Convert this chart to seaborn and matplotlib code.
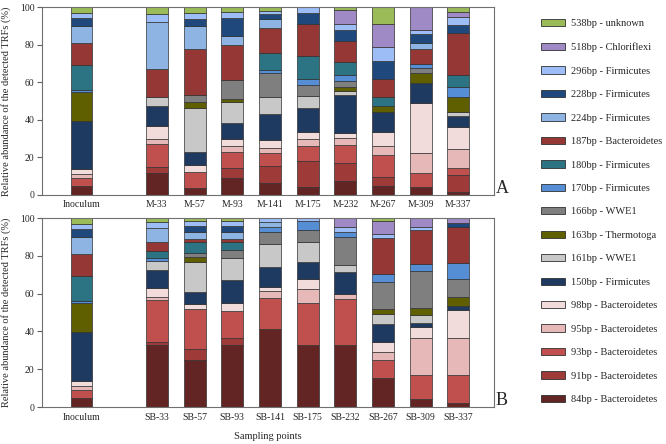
import matplotlib.pyplot as plt
import pandas as pd
import seaborn as sns
from matplotlib.patches import Patch

sns.set_style("white")
plt.rcParams['font.family'] = ['Liberation Serif', 'DejaVu Serif']

# TRF legend, bottom of the stack first
trfs = ["84bp - Bacteroidetes", "91bp - Bacteroidetes", "93bp - Bacteroidetes",
        "95bp - Bacteroidetes", "98bp - Bacteroidetes", "150bp - Firmicutes",
        "161bp - WWE1", "163bp - Thermotoga", "166bp - WWE1", "170bp - Firmicutes",
        "180bp - Firmicutes", "187bp - Bacteroidetes", "224bp - Firmicutes",
        "228bp - Firmicutes", "296bp - Firmicutes", "518bp - Chloriflexi",
        "538bp - unknown"]
colors = ["#632523", "#9E3A38", "#C0504D", "#E6B9B8", "#F2DCDB", "#1F3A60",
          "#C8C8C8", "#5F5F00", "#7F7F7F", "#558ED5", "#2C7383", "#953735",
          "#8DB4E2", "#1F497D", "#9DBDF7", "#9F8AC6", "#9BBB59"]

samples_a = ["Inoculum", "M-33", "M-57", "M-93", "M-141", "M-175", "M-232",
             "M-267", "M-309", "M-337"]
samples_b = ["Inoculum", "SB-33", "SB-57", "SB-93", "SB-141", "SB-175", "SB-232",
             "SB-267", "SB-309", "SB-337"]
positions = [0, 2, 3, 4, 5, 6, 7, 8, 9, 10]

# relative abundance (%) per sample, in trfs order
inoculum = [4.8, 0, 4.4, 1.8, 2.7, 25.9, 0, 15.4, 0, 1.0, 13.3, 11.5, 9.2, 4.0, 2.8, 0, 3.2]

m33 = [11.5, 3.1, 12.4, 2.7, 7.1, 10.3, 4.8, 0, 0, 0, 0, 15.2, 24.9, 0, 4.3, 0, 3.7]
m57 = [3.9, 0, 8.2, 0, 3.9, 6.7, 23.5, 3.5, 3.6, 0, 0, 24.3, 12.1, 4.1, 3.0, 0, 3.2]
m93 = [9.2, 5.0, 8.5, 3.1, 3.9, 8.5, 11.5, 1.5, 10.1, 0, 0, 18.3, 4.8, 9.7, 3.1, 0, 2.8]
m141 = [6.2, 9.4, 6.6, 2.7, 4.1, 14.2, 9.2, 0, 12.4, 1.5, 9.2, 13.3, 4.8, 2.8, 1.6, 0, 2.0]
m175 = [4.4, 13.7, 7.7, 3.9, 3.7, 13.1, 6.3, 0, 5.5, 3.5, 11.9, 17.2, 0, 5.9, 3.2, 0, 0]
m232 = [7.5, 9.4, 9.7, 3.6, 2.7, 20.4, 2.1, 2.0, 3.5, 3.0, 7.1, 11.2, 0, 5.7, 3.0, 7.7, 1.4]
m267 = [4.8, 5.0, 11.5, 5.0, 7.4, 10.7, 0, 2.7, 0, 0, 5.3, 9.2, 0, 9.8, 7.1, 12.5, 9.0]
m309 = [4.1, 0, 7.4, 10.7, 26.6, 10.7, 0, 5.3, 2.7, 2.1, 0, 8.0, 3.2, 4.8, 2.0, 12.4, 0]
m337 = [1.8, 8.9, 3.5, 10.1, 11.8, 6.0, 1.8, 8.1, 0, 5.4, 6.6, 22.1, 0, 4.5, 3.9, 2.8, 2.7]

sb33 = [32.7, 1.5, 22.4, 1.4, 4.8, 9.8, 4.9, 0, 0, 1.3, 4.0, 4.5, 7.4, 0, 3.2, 0, 2.1]
sb57 = [24.8, 6.2, 20.9, 0, 2.6, 6.2, 16.3, 2.3, 2.1, 0, 5.9, 1.7, 3.4, 3.5, 2.3, 0, 1.8]
sb93 = [33.1, 3.7, 14.0, 0, 4.1, 12.4, 11.8, 0, 4.1, 0, 4.1, 1.5, 3.6, 3.5, 2.3, 0, 1.8]
sb141 = [41.2, 0, 16.3, 3.9, 2.3, 10.6, 11.9, 0, 6.2, 2.8, 0, 0, 2.5, 0, 2.3, 0, 0]
sb175 = [32.7, 0, 22.2, 7.6, 5.3, 8.7, 10.8, 0, 6.2, 4.7, 0, 0, 0, 0, 1.8, 0, 0]
sb232 = [32.7, 0, 24.3, 2.6, 0, 12.1, 3.2, 0, 15.0, 2.5, 0, 0, 0, 0, 2.6, 5.0, 0]
sb267 = [15.6, 0, 9.5, 4.1, 5.3, 9.7, 5.0, 2.7, 14.5, 3.9, 0, 19.1, 0, 0, 2.1, 6.7, 1.8]
sb309 = [4.1, 0, 12.7, 19.5, 6.2, 1.9, 4.3, 3.9, 19.4, 3.6, 0, 17.9, 0, 0, 1.7, 4.8, 0]
sb337 = [2.1, 0, 14.7, 19.5, 15.0, 2.2, 0, 4.5, 9.6, 8.5, 0, 18.9, 0, 2.3, 0, 2.7, 0]

rows_a = [inoculum, m33, m57, m93, m141, m175, m232, m267, m309, m337]
rows_b = [inoculum, sb33, sb57, sb93, sb141, sb175, sb232, sb267, sb309, sb337]

ylab = "Relative abundance of the detected TRFs (%)"


def to_long(rows):
    recs = []
    for pos, row in zip(positions, rows):
        for trf, v in zip(trfs, row):
            if v > 0:
                recs.append({"pos": pos, "trf": trf, "value": v})
    return pd.DataFrame(recs)


def draw(ax, rows, names, tag):
    df = to_long(rows)
    sns.histplot(data=df, x="pos", hue="trf", weights="value", multiple="stack",
                 discrete=True, shrink=0.58, hue_order=trfs[::-1],
                 palette=dict(zip(trfs, colors)), alpha=1, edgecolor="#303030",
                 linewidth=0.5, legend=False, ax=ax)
    # hide the empty (zero height) segments
    for p in ax.patches:
        if p.get_height() <= 0:
            p.set_visible(False)
    ax.set_xlim(-1.05, 10.95)
    ax.set_ylim(0, 100)
    ax.set_yticks(range(0, 101, 20))
    ax.set_xticks(positions)
    ax.set_xticklabels(names, fontsize=7)
    ax.tick_params(axis="y", labelsize=7, length=3.5, direction="out", left=True,
                   color="#606060", pad=2)
    ax.tick_params(axis="x", length=0, pad=4)
    ax.set_xlabel("")
    ax.set_ylabel(ylab, fontsize=7.5, labelpad=4)
    for s in ax.spines.values():
        s.set_color("#707070")
        s.set_linewidth(0.8)
    ax.text(1.004, -0.01, tag, transform=ax.transAxes, ha="left", va="bottom",
            fontsize=13)


fig = plt.figure(figsize=(6.66, 4.44), dpi=100)
ax_a = fig.add_axes([0.063, 0.561, 0.679, 0.423])
ax_b = fig.add_axes([0.063, 0.083, 0.679, 0.426])

draw(ax_a, rows_a, samples_a, "A")
draw(ax_b, rows_b, samples_b, "B")
ax_a.yaxis.set_label_coords(-0.068, 0.5)
ax_b.yaxis.set_label_coords(-0.068, 0.5)

fig.text(0.402, 0.016, "Sampling points", ha="center", va="center", fontsize=7.5)

handles = [Patch(facecolor=c, edgecolor="#303030", linewidth=0.6, label=t)
           for t, c in zip(trfs, colors)][::-1]
fig.legend(handles=handles, loc="upper left", bbox_to_anchor=(0.812, 0.957),
           frameon=False, fontsize=7.5, handlelength=2.3, handleheight=0.7,
           labelspacing=1.36, handletextpad=0.6, borderaxespad=0, borderpad=0)

fig.savefig("out.png", dpi=100)
